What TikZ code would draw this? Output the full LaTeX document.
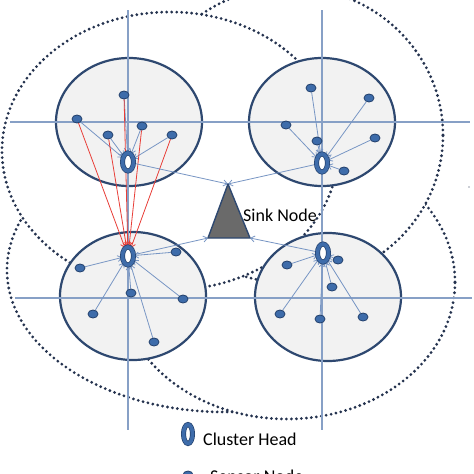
\documentclass[tikz,border=0pt]{standalone}
\usepackage{fontspec}
\setmainfont{Carlito}
\usetikzlibrary{shapes.geometric,arrows.meta}
\pgfdeclarelayer{back}
\pgfdeclarelayer{mid}
\pgfsetlayers{back,mid,main}
\definecolor{dotc}{RGB}{36,50,78}
\definecolor{clusterfill}{RGB}{242,242,242}
\definecolor{clusteredge}{RGB}{46,72,112}
\definecolor{crossc}{RGB}{135,160,198}
\definecolor{linkc}{RGB}{120,150,196}
\definecolor{redc}{RGB}{232,62,56}
\definecolor{nodec}{RGB}{62,108,170}
\definecolor{nodeedge}{RGB}{36,66,110}
\definecolor{sinkfill}{RGB}{106,106,106}
\begin{document}
\begin{tikzpicture}[x=1pt,y=-1pt,
  zone/.style={draw=dotc, fill=white, line width=3.1pt, dash pattern=on 0pt off 5pt, line cap=round},
  cluster/.style={draw=clusteredge, fill=clusterfill, line width=2.2pt},
  cross/.style={draw=crossc, line width=1.1pt},
  link/.style={draw=linkc, line width=0.8pt, -{Straight Barb[length=4pt,width=6pt]}},
  redlink/.style={draw=redc, line width=0.8pt, -{Straight Barb[length=4pt,width=6pt]}},
  sensor/.style={ellipse, fill=nodec, draw=nodeedge, line width=0.8pt, minimum width=10pt, minimum height=8pt, inner sep=0pt},
  chead/.style={ellipse, draw=nodeedge, double=nodec, double distance=3.6pt, line width=0.7pt, fill=white, minimum width=11pt, minimum height=18pt, inner sep=0pt},
  label/.style={inner sep=0pt, font=\fontsize{18}{20}\selectfont}]
\useasboundingbox (0,0) rectangle (474,474);

% sensor nodes and cluster heads
\node[chead] (h1) at (128,162) {};
\node[sensor] (a1) at (124,95) {};
\node[sensor] (a2) at (77,119) {};
\node[sensor] (a3) at (108,135) {};
\node[sensor] (a4) at (142,126) {};
\node[sensor] (a5) at (172,135) {};

\node[chead] (h2) at (322,163) {};
\node[sensor] (b1) at (311,88) {};
\node[sensor] (b2) at (369,98) {};
\node[sensor] (b3) at (286,125) {};
\node[sensor] (b4) at (375,138) {};
\node[sensor] (b5) at (317,141) {};
\node[sensor] (b6) at (344,171) {};

\node[chead] (h3) at (128,256) {};
\node[sensor] (c1) at (80,268) {};
\node[sensor] (c2) at (176,252) {};
\node[sensor] (c3) at (131,293) {};
\node[sensor] (c4) at (183,299) {};
\node[sensor] (c5) at (93,314) {};
\node[sensor] (c6) at (154,342) {};

\node[chead] (h4) at (323,253) {};
\node[sensor] (d1) at (287,265) {};
\node[sensor] (d2) at (338,260) {};
\node[sensor] (d3) at (332,287) {};
\node[sensor] (d4) at (280,314) {};
\node[sensor] (d5) at (320,319) {};
\node[sensor] (d6) at (363,317) {};

% sink
\coordinate (sinkTop) at (228,184);
\coordinate (sinkL) at (208,238);
\coordinate (sinkR) at (250,238);
\filldraw[fill=sinkfill, draw=clusteredge, line width=1.4pt, line join=round] (sinkTop) -- (sinkL) -- (sinkR) -- cycle;
\node[label, anchor=west] (sinklabel) at (243,215) {Sink Node};

% legend
\node[chead, minimum width=9pt, minimum height=19pt] (lhead) at (188,434) {};
\node[label, anchor=base west] (lheadtext) at (203,445) {Cluster Head};
\node[sensor] (lsensor) at (188,475) {};
\node[label, anchor=base west] (lsensortext) at (210,482) {Sensor Node};

\begin{pgfonlayer}{back}
  \fill[white] (0,0) rectangle (474,474);
  \draw[zone] (225,270) ellipse [x radius=218pt, y radius=142pt];
  \draw[zone] (287,282) ellipse [x radius=168pt, y radius=137pt];
  \draw[zone] (290,135) ellipse [x radius=153pt, y radius=148pt];
  \draw[zone] (170,151) ellipse [x radius=168pt, y radius=139pt];
  \draw[cluster] (129,122) ellipse [x radius=73pt, y radius=64pt];
  \draw[cluster] (322,122) ellipse [x radius=73pt, y radius=64pt];
  \draw[cluster] (133,296) ellipse [x radius=73pt, y radius=64pt];
  \draw[cluster] (328,297) ellipse [x radius=73pt, y radius=64pt];
  \draw[cross] (10,122) -- (470,122);
  \draw[cross] (15,298) -- (472,298);
  \draw[cross] (128,10) -- (128,430);
  \draw[cross] (322,10) -- (322,430);
  \fill[dotc] (469,187) circle (0.7pt);
\end{pgfonlayer}

\begin{pgfonlayer}{mid}
  \foreach \s in {a1,a2,a3,a4,a5} {\draw[link] (\s) -- (h1);}
  \foreach \s in {b1,b2,b3,b4,b5,b6} {\draw[link] (\s) -- (h2);}
  \foreach \s in {c1,c2,c3,c4,c5,c6} {\draw[link] (\s) -- (h3);}
  \foreach \s in {d1,d2,d3,d4,d5,d6} {\draw[link] (\s) -- (h4);}
  \foreach \s in {a1,a2,a3,a4,a5} {\draw[redlink] (\s) -- (h3);}
  \draw[link] (h1) -- (sinkTop);
  \draw[link] (h2) -- (sinkTop);
  \draw[link] (h3) -- (sinkL);
  \draw[link] (h4) -- (sinkR);
\end{pgfonlayer}
\end{tikzpicture}
\end{document}
